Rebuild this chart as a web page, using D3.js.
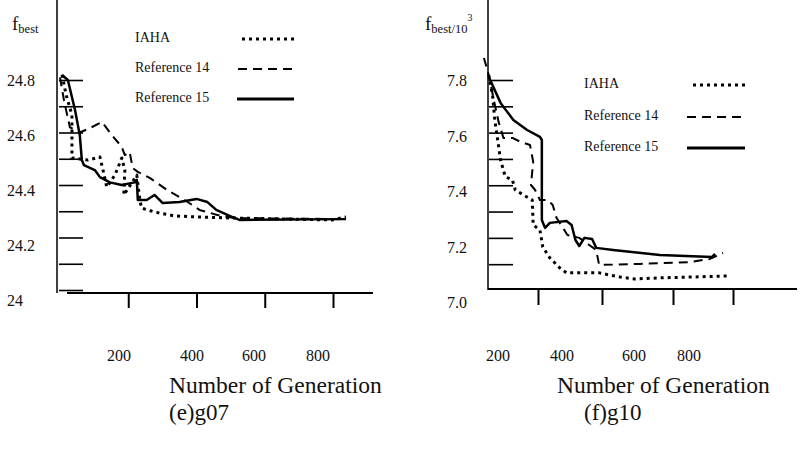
<!DOCTYPE html>
<html>
<head>
<meta charset="utf-8">
<script src="https://cdn.jsdelivr.net/npm/d3@7"></script>
<style>
  html, body { margin: 0; padding: 0; background: #fff; }
  svg { display: block; }
  text { font-family: "Liberation Serif", "DejaVu Serif", serif; fill: #111; }
</style>
</head>
<body>
<svg id="chart" width="810" height="452"></svg>
<script>
// ---------------- data ----------------
const seriesNames = ["IAHA", "Reference 14", "Reference 15"];
const xTickValues = [200, 400, 600, 800];

// panel (e) g07
const g07YTicks = [24.0, 24.1, 24.2, 24.3, 24.4, 24.5, 24.6, 24.7, 24.8];
const g07YLabels = [24.8, 24.6, 24.4, 24.2, 24];
const g07IAHA = [[6,24.82],[18,24.743],[35,24.667],[35,24.503],[82,24.495],[117,24.507],[126,24.457],[137,24.392],[161,24.438],[181,24.503],[190,24.457],[187,24.362],[225,24.438],[234,24.343],[239,24.312],[277,24.297],[336,24.282],[409,24.278],[511,24.274],[797,24.267],[838,24.278]];
const g07Ref14 = [[0,24.81],[12,24.72],[29,24.62],[58,24.60],[88,24.617],[123,24.64],[152,24.59],[181,24.545],[190,24.514],[204,24.526],[213,24.465],[228,24.45],[263,24.427],[315,24.38],[365,24.343],[409,24.305],[461,24.286],[511,24.274],[838,24.27]];
const g07Ref15 = [[6,24.819],[23,24.80],[44,24.686],[58,24.59],[64,24.495],[70,24.476],[102,24.457],[117,24.43],[146,24.41],[181,24.40],[219,24.41],[225,24.42],[228,24.343],[254,24.343],[277,24.362],[301,24.331],[350,24.335],[400,24.347],[432,24.335],[458,24.305],[505,24.278],[526,24.267],[838,24.27]];

// panel (f) g10
const g10YTicks = [7.1, 7.2, 7.3, 7.4, 7.5, 7.6, 7.7, 7.8];
const g10YLabels = ["7.8", "7.6", "7.4", "7.2", "7.0"];
const g10IAHA = [[46,7.819],[58,7.743],[65,7.648],[74,7.572],[83,7.496],[98,7.432],[120,7.420],[129,7.382],[160,7.359],[182,7.344],[185,7.249],[206,7.230],[215,7.165],[237,7.124],[268,7.086],[289,7.067],[391,7.067],[451,7.051],[493,7.044],[563,7.048],[780,7.055]];
const g10Ref14 = [[31,7.884],[46,7.819],[62,7.724],[77,7.64],[92,7.58],[120,7.58],[145,7.565],[175,7.553],[185,7.489],[178,7.401],[191,7.382],[206,7.344],[231,7.344],[246,7.325],[258,7.276],[292,7.211],[329,7.2],[360,7.173],[382,7.154],[391,7.097],[507,7.101],[657,7.108],[723,7.12],[767,7.143]];
const g10Ref15 = [[46,7.812],[83,7.713],[123,7.648],[166,7.610],[206,7.584],[212,7.572],[212,7.268],[222,7.238],[237,7.257],[289,7.264],[305,7.249],[317,7.192],[329,7.169],[345,7.2],[369,7.196],[382,7.162],[431,7.154],[563,7.135],[730,7.127],[740,7.139]];

// ---------------- styles ----------------
const lineStyles = [
  { width: 3, dash: "3,4" },   // IAHA dotted
  { width: 2, dash: "9,6" },   // Ref 14 dashed
  { width: 2.5, dash: null }   // Ref 15 solid
];

const svg = d3.select("#chart");

function drawPanel(cfg) {
  const g = svg.append("g");
  const x = d3.scaleLinear().domain(cfg.xDomain).range(cfg.xRange);
  const y = d3.scaleLinear().domain(cfg.yDomain).range(cfg.yRange);
  const xLab = d3.scaleLinear().domain(xTickValues).range(cfg.xLabRange);
  const yLab = d3.scaleLinear().domain(cfg.yDomain).range(cfg.yLabRange);

  // axis lines
  g.append("line").attr("x1", cfg.yAxisX).attr("x2", cfg.yAxisX)
    .attr("y1", 0).attr("y2", cfg.yAxisBottom)
    .attr("stroke", "#000").attr("stroke-width", 1.5);
  g.append("line").attr("x1", cfg.xAxisX0).attr("x2", cfg.xAxisX1)
    .attr("y1", cfg.xAxisY).attr("y2", cfg.xAxisY)
    .attr("stroke", "#000").attr("stroke-width", 2);

  // x ticks
  const xa = g.append("g").attr("transform", `translate(0,${cfg.xAxisY})`)
    .call(d3.axisBottom(x).tickValues(xTickValues).tickSize(cfg.xTickLen).tickFormat(""));
  xa.select(".domain").remove();
  xa.selectAll("line").attr("stroke", "#000").attr("stroke-width", 2);

  // y ticks
  const ya = g.append("g").attr("transform", `translate(${cfg.yTickX},0)`)
    .call(d3.axisRight(y).tickValues(cfg.yTicks).tickSize(cfg.yTickLen).tickFormat(""));
  ya.select(".domain").remove();
  ya.selectAll("line").attr("stroke", "#000").attr("stroke-width", 1.6);

  // y labels
  g.selectAll(".ylab").data(cfg.yLabels).enter().append("text")
    .attr("x", cfg.yLabX).attr("y", d => yLab(+d) + 6)
    .attr("font-size", 16).text(d => d);

  // x labels
  g.selectAll(".xlab").data(xTickValues).enter().append("text")
    .attr("x", d => xLab(d)).attr("y", 361).attr("text-anchor", "middle")
    .attr("font-size", 16).text(d => d);

  // titles
  g.append("text").attr("x", cfg.titleX).attr("y", 393).attr("font-size", 23.5)
    .text("Number of Generation");
  g.append("text").attr("x", cfg.subX).attr("y", 420).attr("font-size", 23)
    .text(cfg.sub);

  // y axis title
  const yt = g.append("text").attr("x", cfg.yTitleX).attr("y", 30);
  yt.append("tspan").attr("font-size", 19).text("f");
  yt.append("tspan").attr("font-size", 12.5).attr("dy", 3).text(cfg.yTitleSub);
  if (cfg.yTitleSup) yt.append("tspan").attr("font-size", 10).attr("dy", -12).text(cfg.yTitleSup);

  // lines
  const line = d3.line().x(d => x(d[0])).y(d => y(d[1]));
  cfg.series.forEach((s, i) => {
    g.append("path").datum(s).attr("d", line)
      .attr("fill", "none").attr("stroke", "#000")
      .attr("stroke-width", lineStyles[i].width)
      .attr("stroke-dasharray", lineStyles[i].dash)
      .attr("stroke-linejoin", "round");
  });

  // legend
  seriesNames.forEach((name, i) => {
    const ly = cfg.legY[i];
    g.append("text").attr("x", cfg.legTextX).attr("y", ly + 3).attr("font-size", 14).text(name);
    g.append("line").attr("x1", cfg.legLineX0[i]).attr("x2", cfg.legLineX1)
      .attr("y1", ly).attr("y2", ly)
      .attr("stroke", "#000")
      .attr("stroke-width", i === 2 ? 3 : lineStyles[i].width)
      .attr("stroke-dasharray", lineStyles[i].dash);
  });
}

drawPanel({
  xDomain: [0, 800], xRange: [60, 333],
  yDomain: [24, 24.8], yRange: [290, 80],
  xLabRange: [119, 192, 254, 318],
  yLabRange: [300, 80],
  yAxisX: 57, yAxisBottom: 293,
  xAxisX0: 67, xAxisX1: 373, xAxisY: 293, xTickLen: 15,
  yTickX: 59, yTickLen: 24,
  yTicks: g07YTicks, yLabels: g07YLabels, yLabX: 7,
  titleX: 169, subX: 169, sub: "(e)g07",
  yTitleX: 12, yTitleSub: "best", yTitleSup: null,
  series: [g07IAHA, g07Ref14, g07Ref15],
  legTextX: 135, legY: [39, 69, 99],
  legLineX0: [242, 238, 237], legLineX1: 294
});

drawPanel({
  xDomain: [0, 200, 400, 600, 800], xRange: [474, 538, 602, 673, 733],
  yDomain: [7.0, 7.8], yRange: [290.5, 80],
  xLabRange: [498, 562, 634, 689],
  yLabRange: [302, 80],
  yAxisX: 488, yAxisBottom: 290,
  xAxisX0: 488, xAxisX1: 797, xAxisY: 289, xTickLen: 16,
  yTickX: 489, yTickLen: 24,
  yTicks: g10YTicks, yLabels: g10YLabels, yLabX: 447,
  titleX: 557, subX: 584, sub: "(f)g10",
  yTitleX: 425, yTitleSub: "best/10", yTitleSup: "3",
  series: [g10IAHA, g10Ref14, g10Ref15],
  legTextX: 584, legY: [85, 117, 148],
  legLineX0: [693, 687, 687], legLineX1: 745
});
</script>
</body>
</html>
